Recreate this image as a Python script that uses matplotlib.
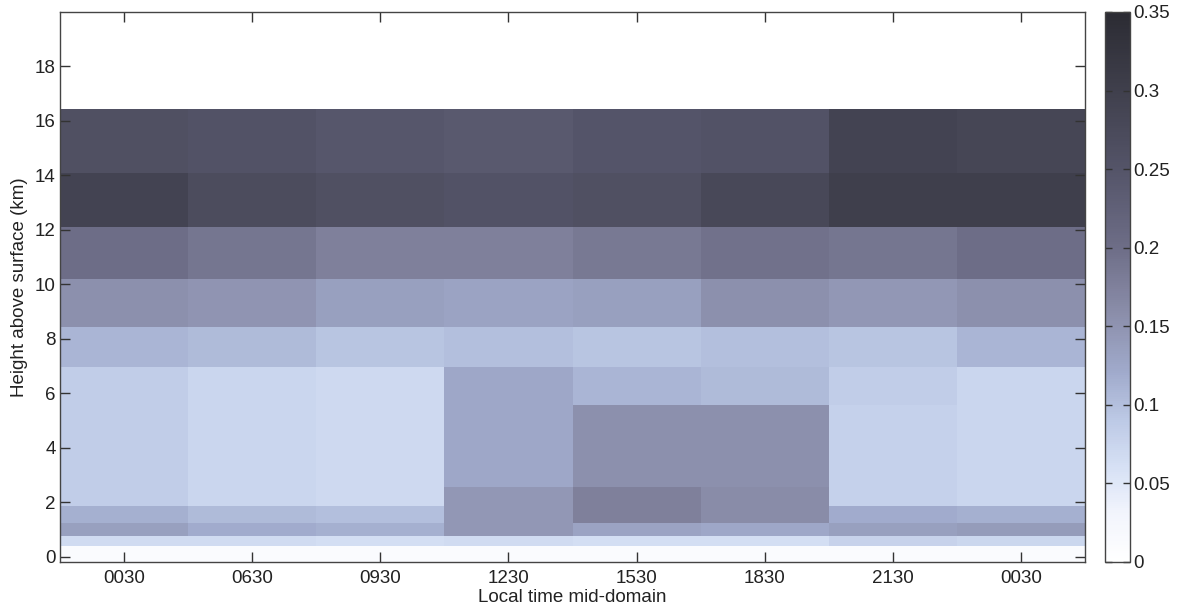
import numpy as np
import matplotlib
matplotlib.use("Agg")
import matplotlib.pyplot as plt
from matplotlib.colors import LinearSegmentedColormap

plt.rcParams['font.family'] = ['Liberation Sans', 'DejaVu Sans']

# ---- data ----
time_labels = ["0030", "0630", "0930", "1230", "1530", "1830", "2130", "0030"]
height_edges = [-0.2, 0.37, 0.75, 1.25, 1.85, 2.57, 5.57, 6.96, 8.43, 10.2, 12.1, 14.1, 16.45]
values = [
    [0.012, 0.012, 0.012, 0.012, 0.012, 0.012, 0.012, 0.012],   # -0.2 - 0.37
    [0.068, 0.068, 0.063, 0.068, 0.063, 0.063, 0.078, 0.073],   # 0.37 - 0.75
    [0.135, 0.120, 0.115, 0.145, 0.130, 0.125, 0.135, 0.140],   # 0.75 - 1.25
    [0.115, 0.105, 0.100, 0.145, 0.175, 0.160, 0.120, 0.115],   # 1.25 - 1.85
    [0.085, 0.075, 0.070, 0.145, 0.175, 0.160, 0.080, 0.075],   # 1.85 - 2.57
    [0.085, 0.075, 0.070, 0.125, 0.155, 0.155, 0.080, 0.075],   # 2.57 - 5.57
    [0.085, 0.075, 0.070, 0.125, 0.110, 0.105, 0.085, 0.075],   # 5.57 - 6.96
    [0.110, 0.105, 0.095, 0.100, 0.095, 0.100, 0.095, 0.110],   # 6.96 - 8.43
    [0.155, 0.150, 0.135, 0.130, 0.135, 0.155, 0.145, 0.155],   # 8.43 - 10.2
    [0.200, 0.190, 0.175, 0.175, 0.185, 0.195, 0.190, 0.200],   # 10.2 - 12.1
    [0.290, 0.270, 0.260, 0.255, 0.260, 0.280, 0.300, 0.300],   # 12.1 - 14.1
    [0.260, 0.255, 0.245, 0.240, 0.250, 0.255, 0.290, 0.285],   # 14.1 - 16.45
]
y_ticks = [0, 2, 4, 6, 8, 10, 12, 14, 16, 18]
cbar_ticks = [0, 0.05, 0.1, 0.15, 0.2, 0.25, 0.3, 0.35]
cbar_ticklabels = ["0", "0.05", "0.1", "0.15", "0.2", "0.25", "0.3", "0.35"]

# ---- colormap (inverted bone-like, as scanned) ----
cm_nodes = [
    (0.000, (1.00, 1.00, 1.00)),
    (0.086, (0.95, 0.96, 0.99)),
    (0.171, (0.84, 0.88, 0.96)),
    (0.257, (0.74, 0.79, 0.90)),
    (0.343, (0.63, 0.67, 0.80)),
    (0.457, (0.54, 0.55, 0.66)),
    (0.571, (0.43, 0.43, 0.53)),
    (0.714, (0.33, 0.33, 0.41)),
    (0.857, (0.25, 0.25, 0.30)),
    (1.000, (0.17, 0.17, 0.20)),
]
cmap = LinearSegmentedColormap.from_list("bone_scan", cm_nodes)

FS = 13.5
fig = plt.figure(figsize=(11.8, 6.11), dpi=100)
ax = fig.add_axes([60/1180, 49/611, 1025/1180, 550/611])
cax = fig.add_axes([1105/1180, 49/611, 25/1180, 550/611])

x_edges = np.arange(len(time_labels) + 1) + 0.5
mesh = ax.pcolormesh(x_edges, np.array(height_edges), np.array(values),
                     cmap=cmap, vmin=0, vmax=0.35, shading='flat')

ax.set_xlim(0.5, len(time_labels) + 0.5)
ax.set_ylim(-0.2, 20)
ax.set_xticks(np.arange(1, len(time_labels) + 1))
ax.set_xticklabels(time_labels)
ax.set_yticks(y_ticks)
ax.tick_params(direction='in', length=7, width=1, top=True, right=True,
               labelsize=FS, colors='#333333', labelcolor='#222222')
ax.tick_params(axis='x', pad=6)
ax.tick_params(axis='y', pad=3)
for s in ax.spines.values():
    s.set_color('#444444')
    s.set_linewidth(1)
ax.set_xlabel("Local time mid-domain", fontsize=FS, color='#222222', labelpad=1)
ax.set_ylabel("Height above surface (km)", fontsize=FS, color='#222222', labelpad=5)

cb = fig.colorbar(mesh, cax=cax, ticks=cbar_ticks)
cb.ax.set_yticklabels(cbar_ticklabels)
cb.ax.tick_params(direction='in', length=5, width=1, left=True, right=True,
                  labelsize=FS, colors='#333333', labelcolor='#222222', pad=2)
cb.outline.set_edgecolor('#444444')
cb.outline.set_linewidth(1)

fig.savefig("out.png", dpi=100)
